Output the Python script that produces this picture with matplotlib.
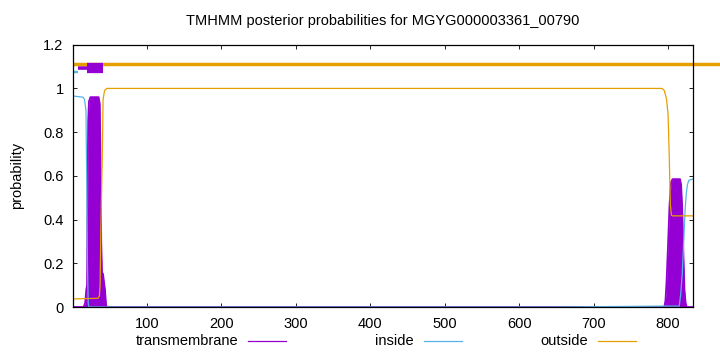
import matplotlib
matplotlib.use("Agg")
import matplotlib.pyplot as plt
from matplotlib.lines import Line2D

plt.rcParams['font.family'] = ['Liberation Sans', 'DejaVu Sans']
plt.rcParams['font.size'] = 10.5

# posterior probabilities (residue, probability)
tm_x = [1, 15, 17, 18.5, 19.5, 20, 21, 22, 24, 35, 36.5, 37.5, 38.5, 39.5, 41, 42, 43.5, 45, 46,
        795, 796.5, 798, 800, 802, 804, 806, 816, 817.5, 819, 820.5, 822, 823.5, 825, 833]
tm_y = [0, 0, 0.02, 0.08, 0.1, 0.4, 0.85, 0.94, 0.96, 0.96, 0.93, 0.7, 0.3, 0.16, 0.15, 0.12, 0.08, 0.01, 0,
        0, 0.03, 0.12, 0.29, 0.47, 0.57, 0.585, 0.585, 0.56, 0.45, 0.25, 0.08, 0.02, 0, 0]

in_x = [1, 14, 16, 18, 19, 20, 21, 22, 650, 790, 815, 817, 819, 821, 823, 824.5, 826, 828, 833]
in_y = [0.965, 0.96, 0.95, 0.9, 0.6, 0.2, 0.02, 0, 0, 0.004, 0.004, 0.06, 0.15, 0.3, 0.45, 0.52, 0.56, 0.58, 0.585]

out_x = [1, 34, 36, 37, 38, 40, 41, 43, 46, 792, 795, 798, 800, 801.5, 803, 804.5, 806, 833]
out_y = [0.037, 0.04, 0.05, 0.1, 0.35, 0.7, 0.95, 0.99, 1.0, 1.0, 0.99, 0.95, 0.88, 0.7, 0.47, 0.42, 0.417, 0.417]

# predicted topology bar above the curves (start, end)
inside_seg = (1, 7)
tm_seg = (20, 41)
tm_low_seg = (7, 20)
outside_seg = (1, 900)

seq_len = 833
purple = '#9400D3'
blue = '#56B4E9'
orange = '#E69F00'

fig = plt.figure(figsize=(7.2, 3.52), dpi=100)
ax = fig.add_axes([0.1018, 0.1278, 0.8602, 0.7452])

ax.fill_between(tm_x, 0, tm_y, color=purple, lw=0, zorder=2)
ax.plot(tm_x, tm_y, color=purple, lw=1.3, zorder=2)
ax.plot(in_x, in_y, color=blue, lw=0.9, zorder=3)
ax.plot(out_x, out_y, color=orange, lw=0.9, zorder=3)

ax.plot(inside_seg, [1.075, 1.075], color=blue, lw=1.7, solid_capstyle='butt', zorder=4)
ax.plot([tm_low_seg[0], tm_seg[1]], [1.094, 1.094], color=purple, lw=2.6,
        solid_capstyle='butt', zorder=4)
ax.plot(outside_seg, [1.112, 1.112], color=orange, lw=2.5, solid_capstyle='butt',
        zorder=5, clip_on=False)
ax.plot(tm_seg, [1.0925, 1.0925], color=purple, lw=7.4, solid_capstyle='butt', zorder=6)

ax.set_xlim(1, seq_len)
ax.set_ylim(0, 1.2)
ax.set_xticks([100, 200, 300, 400, 500, 600, 700, 800])
ax.set_yticks([0, 0.2, 0.4, 0.6, 0.8, 1.0, 1.2])
ax.set_yticklabels(['0', '0.2', '0.4', '0.6', '0.8', '1', '1.2'])
ax.tick_params(direction='in', length=2.7, width=0.6, top=True, right=True, pad=7,
               colors='black')
for s in ax.spines.values():
    s.set_linewidth(0.9)
    s.set_zorder(7)

ax.set_ylabel('probability', labelpad=14)
ax.set_title('TMHMM posterior probabilities for MGYG000003361_00790', fontsize=10.5, pad=14)

# gnuplot style key under the plot
key = [('transmembrane', purple, 238), ('inside', blue, 414), ('outside', orange, 588)]
for label, col, right in key:
    fig.text(right / 720, 1 - 341 / 352, label, ha='right', va='center')
    fig.add_artist(Line2D([(right + 10) / 720, (right + 48) / 720],
                          [1 - 341 / 352, 1 - 341 / 352], color=col, lw=0.9))

fig.savefig('out.png', dpi=100)
